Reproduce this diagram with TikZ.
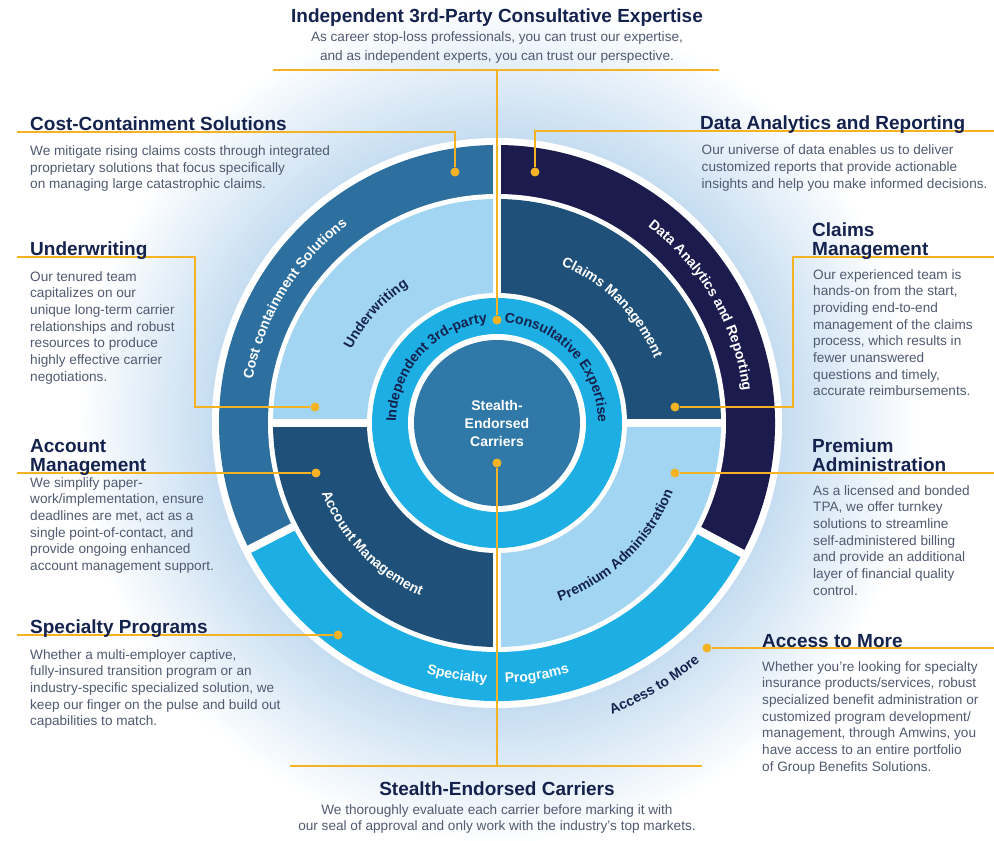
\documentclass[tikz,border=0pt]{standalone}
\usepackage{fontspec}
\setmainfont{Liberation Sans}
\usetikzlibrary{decorations.text}

\definecolor{titlenavy}{HTML}{14224E}
\definecolor{blurbgray}{HTML}{505A70}
\definecolor{gold}{HTML}{F5B324}
\definecolor{costblue}{HTML}{2D6F9E}
\definecolor{datanavy}{HTML}{1C1B4E}
\definecolor{skycyan}{HTML}{1DAEE4}
\definecolor{lightsky}{HTML}{A2D5F2}
\definecolor{deepteal}{HTML}{1E5079}
\definecolor{coreblue}{HTML}{2F78A8}
\definecolor{hazeblue}{HTML}{C6DDF1}

%% radius 25bp is the edge of the shaded circle
\pgfdeclareradialshading{haze}{\pgfpoint{0bp}{0bp}}{color(0bp)=(hazeblue); color(17bp)=(hazeblue); color(25bp)=(white); color(50bp)=(white)}

\newcommand{\headfont}{\fontsize{19}{19}\selectfont\bfseries}
\newcommand{\blurbfont}{\fontsize{13.6}{16.7}\selectfont}
\newcommand{\ringfont}{\fontsize{14}{16}\selectfont\bfseries}
\newcommand{\corefont}{\fontsize{14}{18}\selectfont\bfseries}

\def\ringOut{278}
\def\ringIn{229}
\def\quadOut{224}
\def\quadIn{130}
\def\hubOut{125}
\def\hubIn{89}

\tikzset{
    heading/.style = {font=\headfont, text=titlenavy, inner sep=0pt, align=left},
    blurb/.style = {font=\blurbfont, text=blurbgray, inner sep=0pt, align=left},
    goldline/.style = {draw=gold, line width=1.6pt},
    golddot/.style = {circle, fill=gold, inner sep=0pt, minimum size=9pt},
    gapline/.style = {draw=white, line width=8pt},
    ringtext/.style 2 args = {decorate, decoration={text along path, text align=center, text color=#1, text={|\ringfont|#2}}},
}

\begin{document}
\begin{tikzpicture}[x=1pt, y=1pt]
            \useasboundingbox (-497,-418) rectangle (497,423);
            %% background glow
            \fill [white] (-497,-418) rectangle (497,423);
            \shade [shading=haze] (0,0) circle (420);
            \fill [white] (0,0) circle (285);
            %% outer ring
            \fill [costblue]
            (0,0) -- (90:\ringOut) arc [start angle=90, end angle=207, radius=\ringOut] -- cycle
            ;
            \fill [skycyan]
            (0,0) -- (207:\ringOut) arc [start angle=207, end angle=332, radius=\ringOut] -- cycle
            ;
            \fill [datanavy]
            (0,0) -- (332:\ringOut) arc [start angle=332, end angle=450, radius=\ringOut] -- cycle
            ;
            \fill [white] (0,0) circle (\ringIn);
            \draw [gapline] (207:220) -- (207:284);
            \draw [gapline] (332:220) -- (332:284);
            %% quadrants
            \fill [lightsky]
            (0,0) -- (90:\quadOut) arc [start angle=90, end angle=180, radius=\quadOut] -- cycle
            ;
            \fill [deepteal]
            (0,0) -- (0:\quadOut) arc [start angle=0, end angle=90, radius=\quadOut] -- cycle
            ;
            \fill [deepteal]
            (0,0) -- (180:\quadOut) arc [start angle=180, end angle=270, radius=\quadOut] -- cycle
            ;
            \fill [lightsky]
            (0,0) -- (270:\quadOut) arc [start angle=270, end angle=360, radius=\quadOut] -- cycle
            ;
            \draw [gapline] (-228,0) -- (228,0);
            \draw [gapline] (0,-228) -- (0,284);
            %% hub
            \fill [white] (0,0) circle (\quadIn);
            \fill [skycyan] (0,0) circle (\hubOut);
            \fill [white] (0,0) circle (\hubIn);
            \node [circle, fill=coreblue, minimum size=166pt, inner sep=0pt, text=white, font=\corefont, align=center]
            (core) at (0,0) {Stealth-\\Endorsed\\Carriers}
            ;
            %% ring labels
            \path [ringtext={white}{Cost containment Solutions}]
            (178:248) arc [start angle=178, end angle=119, radius=248]
            ;
            \path [ringtext={white}{Data Analytics and Reporting}]
            (59:248) arc [start angle=59, end angle=1, radius=248]
            ;
            \path [ringtext={white}{Specialty}]
            (250:260) arc [start angle=250, end angle=272, radius=260]
            ;
            \path [ringtext={white}{Programs}]
            (268:260) arc [start angle=268, end angle=290, radius=260]
            ;
            \path [ringtext={titlenavy}{Access to More}]
            (288:313) arc [start angle=288, end angle=314, radius=313]
            ;
            \path [ringtext={titlenavy}{Underwriting}]
            (160:163) arc [start angle=160, end angle=116, radius=163]
            ;
            \path [ringtext={white}{Claims Management}]
            (75:170) arc [start angle=75, end angle=15, radius=170]
            ;
            \path [ringtext={white}{Account Management}]
            (194:189) arc [start angle=194, end angle=254, radius=189]
            ;
            \path [ringtext={titlenavy}{Premium Administration}]
            (282:189) arc [start angle=282, end angle=346, radius=189]
            ;
            \path [ringtext={titlenavy}{Independent 3rd-party}]
            (182:101) arc [start angle=182, end angle=93, radius=101]
            ;
            \path [ringtext={titlenavy}{Consultative Expertise}]
            (88:101) arc [start angle=88, end angle=-2, radius=101]
            ;
            %% dots
            \node [golddot] (consultDot) at (0,103) {};
            \node [golddot] (costDot) at (-42,251) {};
            \node [golddot] (dataDot) at (38,251) {};
            \node [golddot] (uwDot) at (-182,16) {};
            \node [golddot] (claimsDot) at (178,16) {};
            \node [golddot] (acctDot) at (-181,-50) {};
            \node [golddot] (premDot) at (178,-50) {};
            \node [golddot] (specDot) at (-159,-212) {};
            \node [golddot] (accessDot) at (210,-225) {};
            \node [golddot] (carrierDot) at (0,-40) {};
            %% leader lines
            \coordinate (consultL) at (-224,353);
            \coordinate (consultR) at (222,353);
            \coordinate (consultT) at (0,353);
            \coordinate (costEnd) at (-480,291);
            \coordinate (dataEnd) at (497,292);
            \coordinate (uwEnd) at (-480,166);
            \coordinate (uwBend) at (-302,166);
            \coordinate (claimsEnd) at (497,166);
            \coordinate (claimsBend) at (296,166);
            \coordinate (acctEnd) at (-480,-50);
            \coordinate (premEnd) at (497,-50);
            \coordinate (specEnd) at (-480,-212);
            \coordinate (accessEnd) at (497,-225);
            \coordinate (carrierL) at (-207,-343);
            \coordinate (carrierR) at (205,-343);
            \coordinate (carrierB) at (0,-343);
            \draw [goldline] (consultL) -- (consultR);
            \draw [goldline] (consultT) -- (consultDot);
            \draw [goldline] (costEnd) -| (costDot);
            \draw [goldline] (dataEnd) -| (dataDot);
            \draw [goldline] (uwEnd) -- (uwBend) |- (uwDot);
            \draw [goldline] (claimsEnd) -- (claimsBend) |- (claimsDot);
            \draw [goldline] (acctEnd) -- (acctDot);
            \draw [goldline] (premDot) -- (premEnd);
            \draw [goldline] (specEnd) -- (specDot);
            \draw [goldline] (accessDot) -- (accessEnd);
            \draw [goldline] (carrierL) -- (carrierR);
            \draw [goldline] (carrierDot) -- (carrierB);
            %% headings and texts (base = last line)
            \node [heading, anchor=base] (consultHead) at (0,400) {Independent 3rd-Party Consultative Expertise};
            \node [blurb, anchor=base, align=center, font=\fontsize{13.6}{19}\selectfont] (consultText) at (0,362)
            {As career stop-loss professionals, you can trust our expertise,\\and as independent experts, you can trust our perspective.};
            \node [heading, anchor=base west] (costHead) at (-467,292) {Cost-Containment Solutions};
            \node [blurb, anchor=base west] (costText) at (-467,234.1)
            {We mitigate rising claims costs through integrated\\proprietary solutions that focus specifically\\on managing large catastrophic claims.};
            \node [heading, anchor=base west] (uwHead) at (-467,167) {Underwriting};
            \node [blurb, anchor=base west] (uwText) at (-467,41.8)
            {Our tenured team\\capitalizes on our\\unique long-term carrier\\relationships and robust\\resources to produce\\highly effective carrier\\negotiations.};
            \node [heading, anchor=base west] (acctHead) at (-467,-48) {Account\\Management};
            \node [blurb, anchor=base west] (acctText) at (-467,-147.5)
            {We simplify paper-\\work/implementation, ensure\\deadlines are met, act as a\\single point-of-contact, and\\provide ongoing enhanced\\account management support.};
            \node [heading, anchor=base west] (specHead) at (-467,-210) {Specialty Programs};
            \node [blurb, anchor=base west] (specText) at (-467,-302.8)
            {Whether a multi-employer captive,\\fully-insured transition program or an\\industry-specific specialized solution, we\\keep our finger on the pulse and build out\\capabilities to match.};
            \node [heading, anchor=base west] (dataHead) at (203,293) {Data Analytics and Reporting};
            \node [blurb, anchor=base west] (dataText) at (204.5,234.6)
            {Our universe of data enables us to deliver\\customized reports that provide actionable\\insights and help you make informed decisions.};
            \node [heading, anchor=base west] (claimsHead) at (315,167) {Claims\\Management};
            \node [blurb, anchor=base west] (claimsText) at (316,27.1)
            {Our experienced team is\\hands-on from the start,\\providing end-to-end\\management of the claims\\process, which results in\\fewer unanswered\\questions and timely,\\accurate reimbursements.};
            \node [heading, anchor=base west] (premHead) at (315,-48) {Premium\\Administration};
            \node [blurb, anchor=base west] (premText) at (316,-172.2)
            {As a licensed and bonded\\TPA, we offer turnkey\\solutions to streamline\\self-administered billing\\and provide an additional\\layer of financial quality\\control.};
            \node [heading, anchor=base west] (accessHead) at (265,-224) {Access to More};
            \node [blurb, anchor=base west] (accessText) at (265,-348.2)
            {Whether you’re looking for specialty\\insurance products/services, robust\\specialized benefit administration or\\customized program development/\\management, through Amwins, you\\have access to an entire portfolio\\of Group Benefits Solutions.};
            \node [heading, anchor=base] (carrierHead) at (0,-372) {Stealth-Endorsed Carriers};
            \node [blurb, anchor=base, align=center] (carrierText) at (0,-407.7)
            {We thoroughly evaluate each carrier before marking it with\\our seal of approval and only work with the industry’s top markets.};
\end{tikzpicture}
\end{document}
